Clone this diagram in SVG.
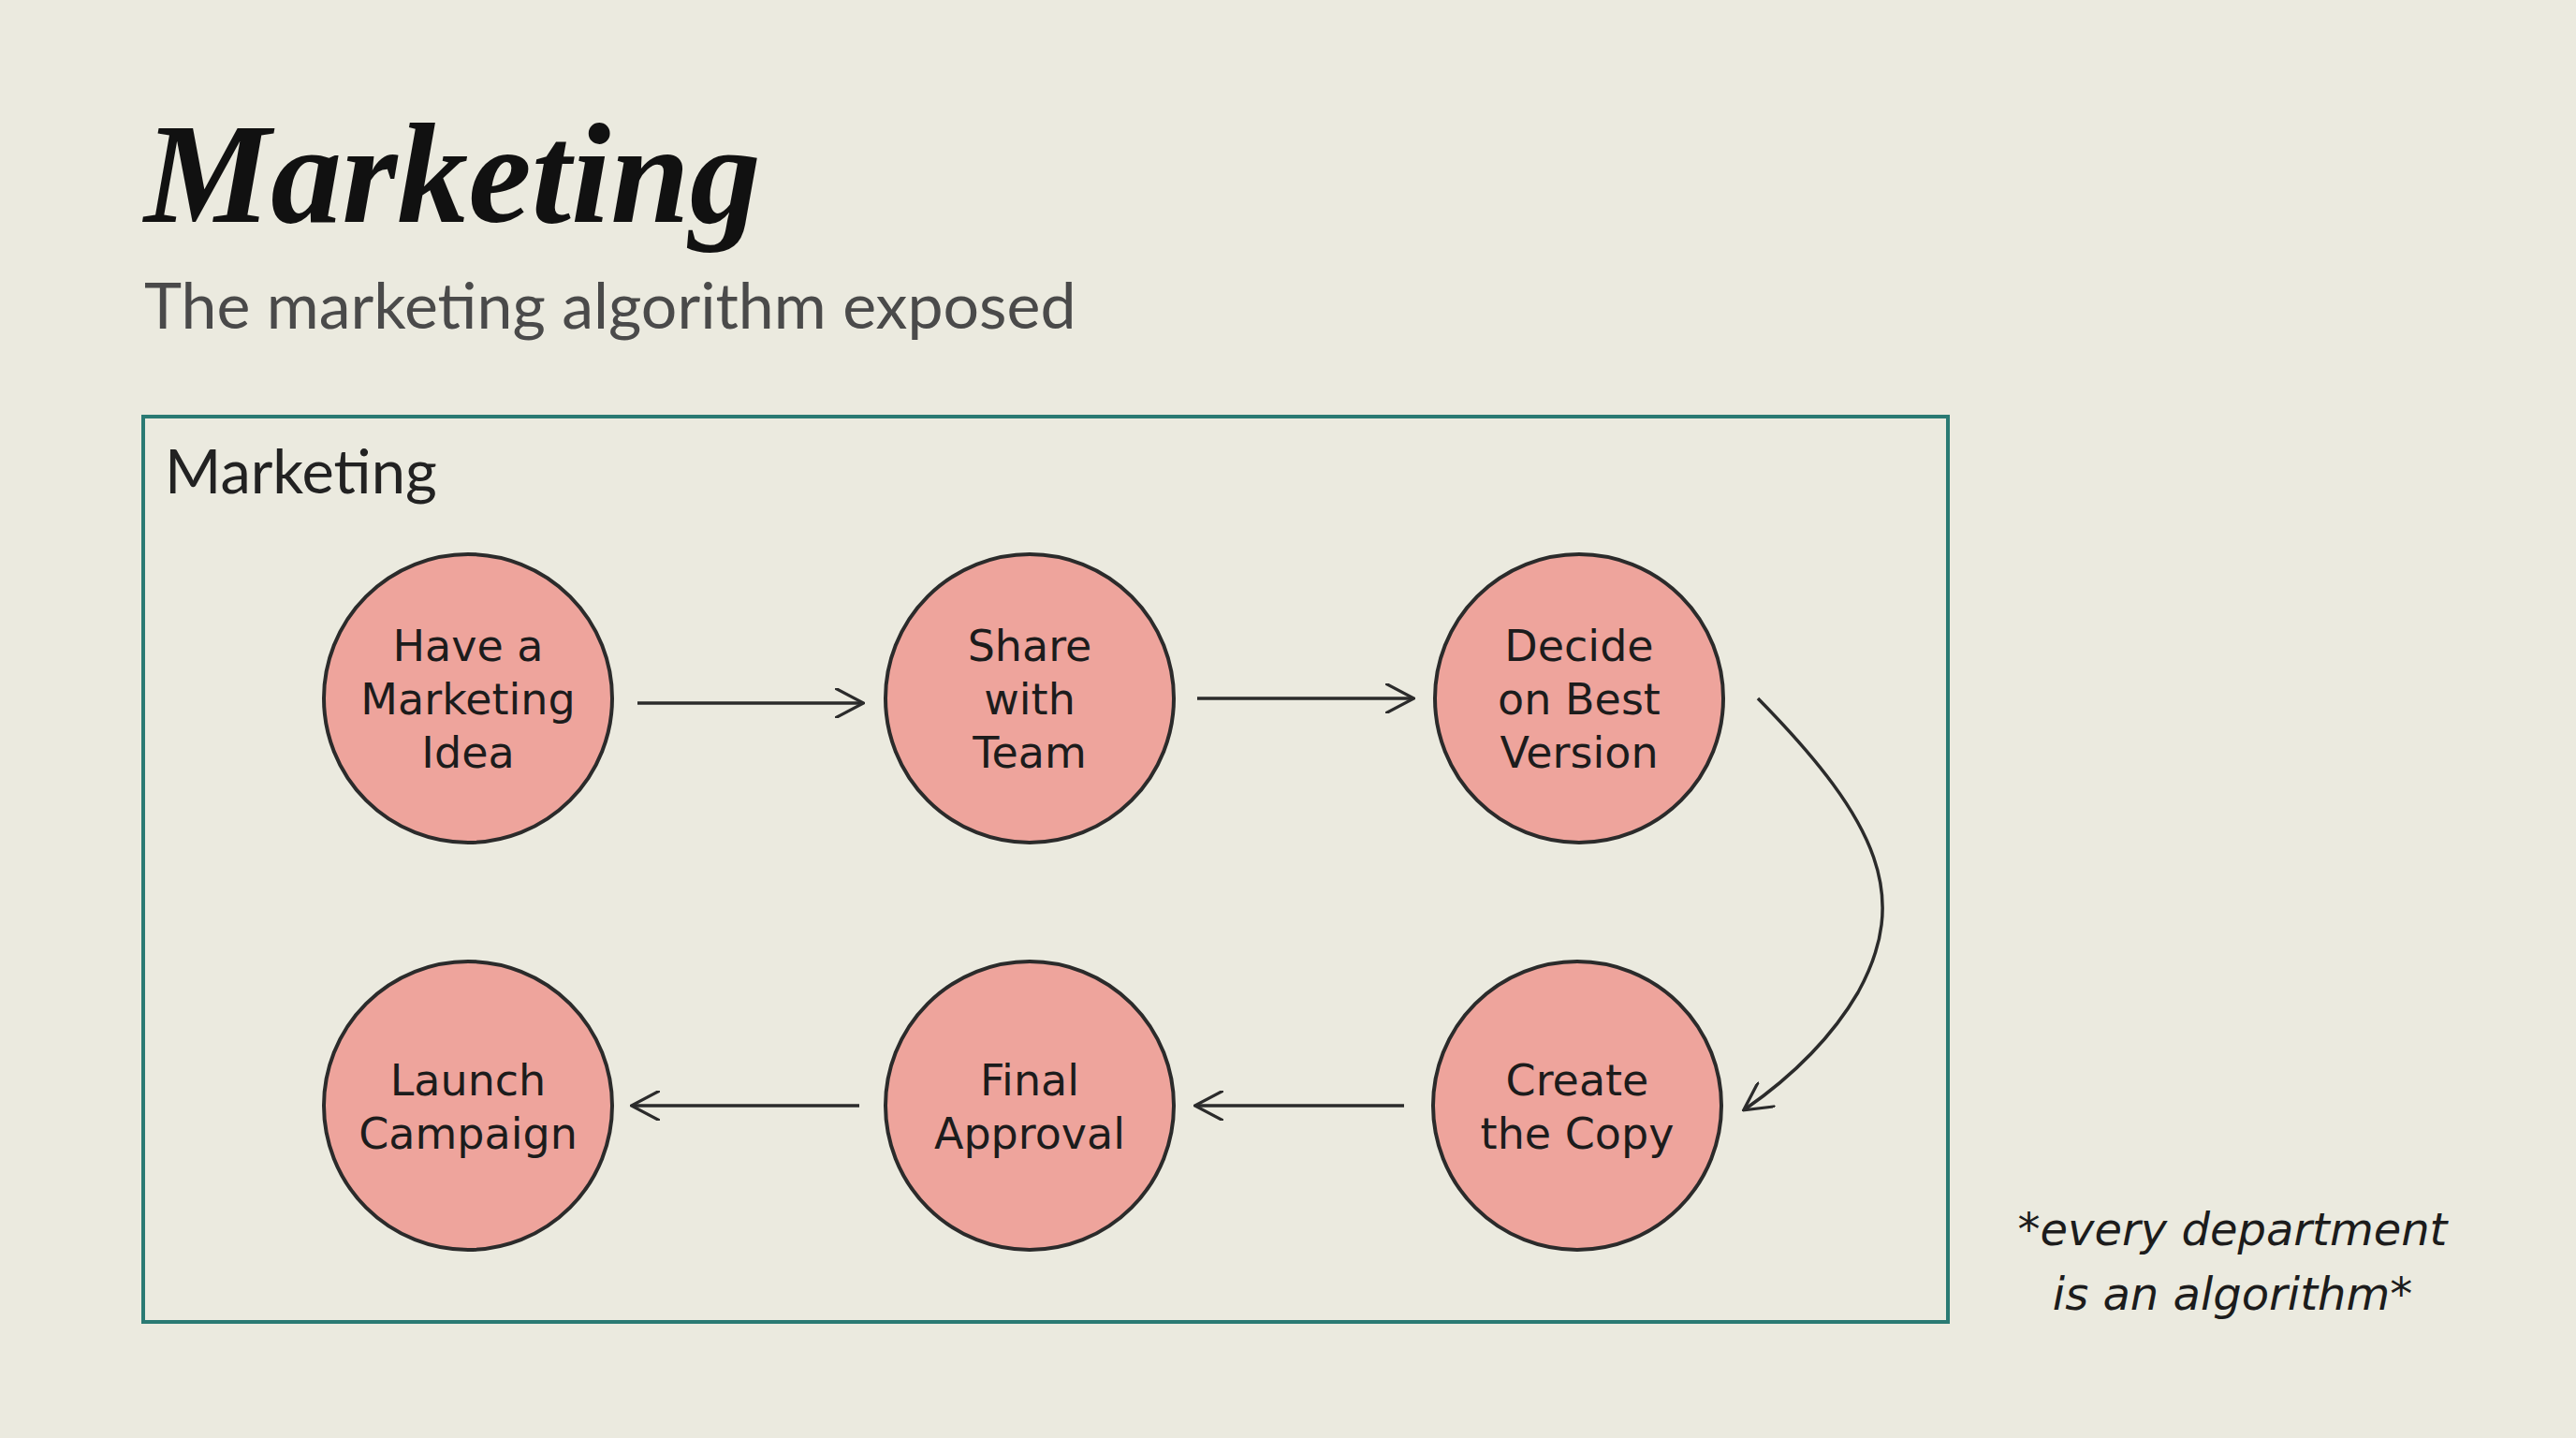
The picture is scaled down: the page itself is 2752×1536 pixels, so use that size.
<svg xmlns="http://www.w3.org/2000/svg" width="2752" height="1536" viewBox="0 0 2752 1536">
<defs>
<style>
.n{fill:#eea49c;stroke:#2b2b2b;stroke-width:4}
.t{font-family:"DejaVu Sans",sans-serif;font-size:46px;fill:#1c1c1c;text-anchor:middle}
.c{fill:none;stroke:#2b2b2b;stroke-width:3.5}
</style>
<marker id="a" viewBox="0 0 20 20" refX="18" refY="10" markerWidth="32" markerHeight="32" markerUnits="userSpaceOnUse" orient="auto"><path d="M0,0 L19,10 L0,20" fill="none" stroke="#2b2b2b" stroke-width="2"/></marker>
</defs>
<rect width="2752" height="1536" fill="#ebeadf"/>
<text x="154" y="237" font-family="Liberation Serif,serif" font-weight="bold" font-style="italic" font-size="152" fill="#111">Marketing</text>
<text x="154" y="351" font-family="Lato,sans-serif" font-size="68" fill="#4a4a4a">The marketing algorithm exposed</text>
<g id="frame"><rect x="153" y="445" width="1928" height="967" fill="none" stroke="#2a7a73" stroke-width="4"/>
<text x="176" y="527" font-family="Lato,sans-serif" font-size="65" fill="#222">Marketing</text></g>
<g id="connectors">
<path class="c" d="M681,751 L921,751" marker-end="url(#a)"/>
<path class="c" d="M1279,746 L1509,746" marker-end="url(#a)"/>
<path class="c" d="M1878,746 C2010,880 2040,960 1985,1060 C1950,1120 1900,1160 1864,1185" marker-end="url(#a)"/>
<path class="c" d="M1500,1181 L1278,1181" marker-end="url(#a)"/>
<path class="c" d="M918,1181 L676,1181" marker-end="url(#a)"/>
</g>
<g id="n1"><circle class="n" cx="500" cy="746" r="154"/><text class="t" x="500" y="706">Have a</text><text class="t" x="500" y="763">Marketing</text><text class="t" x="500" y="820">Idea</text></g>
<g id="n2"><circle class="n" cx="1100" cy="746" r="154"/><text class="t" x="1100" y="706">Share</text><text class="t" x="1100" y="763">with</text><text class="t" x="1100" y="820">Team</text></g>
<g id="n3"><circle class="n" cx="1687" cy="746" r="154"/><text class="t" x="1687" y="706">Decide</text><text class="t" x="1687" y="763">on Best</text><text class="t" x="1687" y="820">Version</text></g>
<g id="n4"><circle class="n" cx="1685" cy="1181" r="154"/><text class="t" x="1685" y="1170">Create</text><text class="t" x="1685" y="1227">the Copy</text></g>
<g id="n5"><circle class="n" cx="1100" cy="1181" r="154"/><text class="t" x="1100" y="1170">Final</text><text class="t" x="1100" y="1227">Approval</text></g>
<g id="n6"><circle class="n" cx="500" cy="1181" r="154"/><text class="t" x="500" y="1170">Launch</text><text class="t" x="500" y="1227">Campaign</text></g>
<g id="note" font-family="DejaVu Sans,sans-serif" font-style="italic" font-size="48" fill="#1c1c1c" text-anchor="middle"><text x="2385" y="1330">*every department</text><text x="2385" y="1399">is an algorithm*</text></g>
</svg>
